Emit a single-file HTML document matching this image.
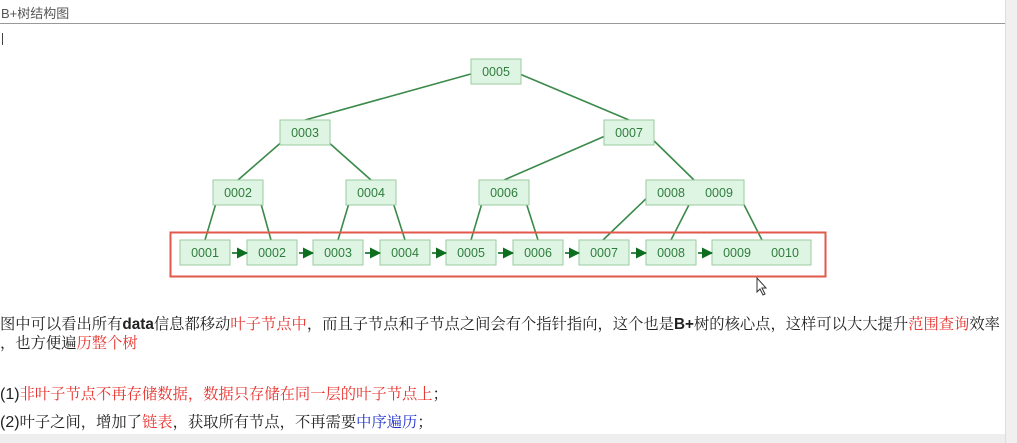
<!DOCTYPE html>
<html><head><meta charset="utf-8"><style>
body{margin:0;width:1017px;height:443px;background:#fff;overflow:hidden;position:relative;font-family:"Liberation Sans","Noto Serif CJK SC",serif;}
.t{position:absolute;left:0;white-space:nowrap;font-size:15.3px;color:#222;}
.r{color:#e8322d}.b{color:#2233cc}.s{font-family:"Liberation Sans","Noto Sans CJK SC",sans-serif;font-weight:bold;}
</style></head><body>
<div style="position:absolute;left:1px;top:3px;font-size:13px;color:#555;font-family:'Liberation Sans','Noto Sans CJK SC',sans-serif">B+树结构图</div>
<div style="position:absolute;left:0;top:23px;width:1005px;height:1px;background:#999"></div>
<div style="position:absolute;left:2px;top:33px;width:1px;height:12px;background:#444"></div>
<div style="position:absolute;left:1005px;top:0;width:12px;height:443px;background:#f0f0f0;border-left:1px solid #ddd"></div>
<div style="position:absolute;left:0;top:434px;width:1005px;height:9px;background:#eee"></div>
<svg width="1017" height="443" style="position:absolute;left:0;top:0" font-family="Liberation Sans,sans-serif" font-size="12.5">
<defs><marker id="a" markerWidth="11" markerHeight="11" refX="10" refY="5.5" orient="auto" markerUnits="userSpaceOnUse"><path d="M0,0L11,5.5L0,11z" fill="#0d6e1f"/></marker></defs>
<g stroke="#3a8a4a" stroke-width="1.6" fill="none">
<line x1="478" y1="72" x2="305" y2="120"/><line x1="515" y1="72" x2="629" y2="120"/>
<line x1="292" y1="133" x2="238" y2="180"/><line x1="318" y1="133" x2="371" y2="180"/>
<line x1="612" y1="133" x2="504" y2="180"/><line x1="646" y1="133" x2="694" y2="180"/>
<line x1="219" y1="193" x2="205" y2="240"/><line x1="258" y1="193" x2="271" y2="240"/>
<line x1="352" y1="193" x2="338" y2="240"/><line x1="390" y1="193" x2="405" y2="240"/>
<line x1="485" y1="193" x2="471" y2="240"/><line x1="523" y1="193" x2="538" y2="240"/>
<line x1="652" y1="193" x2="603" y2="240"/><line x1="695" y1="193" x2="671" y2="240"/>
<line x1="738" y1="193" x2="762" y2="240"/>
</g>
<g fill="#dff5e3" stroke="#9acb9f" stroke-width="1">
<rect x="471" y="59" width="50" height="25"/>
<rect x="280" y="120" width="50" height="25"/><rect x="604" y="120" width="50" height="25"/>
<rect x="213" y="180" width="50" height="25"/><rect x="346" y="180" width="50" height="25"/>
<rect x="479" y="180" width="50" height="25"/><rect x="646" y="180" width="98" height="25"/>
<rect x="180" y="240" width="50" height="25"/><rect x="247" y="240" width="50" height="25"/>
<rect x="313" y="240" width="50" height="25"/><rect x="380" y="240" width="50" height="25"/>
<rect x="446" y="240" width="50" height="25"/><rect x="513" y="240" width="50" height="25"/>
<rect x="579" y="240" width="50" height="25"/><rect x="646" y="240" width="50" height="25"/>
<rect x="712" y="240" width="99" height="25"/>
</g>
<rect x="170.5" y="232.5" width="655" height="44" fill="none" stroke="#e0594a" stroke-width="2"/>
<g stroke="#0d6e1f" stroke-width="1.6" marker-end="url(#a)">
<line x1="232" y1="253" x2="247" y2="253"/><line x1="299" y1="253" x2="313" y2="253"/>
<line x1="365" y1="253" x2="380" y2="253"/><line x1="432" y1="253" x2="446" y2="253"/>
<line x1="498" y1="253" x2="513" y2="253"/><line x1="565" y1="253" x2="579" y2="253"/>
<line x1="631" y1="253" x2="646" y2="253"/><line x1="698" y1="253" x2="712" y2="253"/>
</g>
<g fill="#2f7d3d" text-anchor="middle">
<text x="496" y="76">0005</text><text x="305" y="137">0003</text><text x="629" y="137">0007</text>
<text x="238" y="197">0002</text><text x="371" y="197">0004</text><text x="504" y="197">0006</text>
<text x="671" y="197">0008</text><text x="719" y="197">0009</text>
<text x="205" y="257">0001</text><text x="272" y="257">0002</text><text x="338" y="257">0003</text>
<text x="405" y="257">0004</text><text x="471" y="257">0005</text><text x="538" y="257">0006</text>
<text x="604" y="257">0007</text><text x="671" y="257">0008</text><text x="737" y="257">0009</text><text x="785" y="257">0010</text>
</g>
<path d="M757,278 L757,292 L760,289 L763,295 L765,294 L762,288 L766,288 Z" fill="#fff" stroke="#333" stroke-width="1"/>
</svg>
<div class="t" style="top:312px">图中可以看出所有<span class="s">data</span>信息都移动<span class="r">叶子节点中</span>，而且子节点和子节点之间会有个指针指向，这个也是<span class="s">B+</span>树的核心点，这样可以大大提升<span class="r">范围查询</span>效率</div>
<div class="t" style="top:331px">，也方便遍<span class="r">历整个树</span></div>
<div class="t" style="top:382px"><span class="s" style="font-size:16px;font-weight:normal">(1)</span><span class="r">非叶子节点不再存储数据，数据只存储在同一层的叶子节点上</span>；</div>
<div class="t" style="top:410px"><span class="s" style="font-size:16px;font-weight:normal">(2)</span>叶子之间，增加了<span class="r">链表</span>，获取所有节点，不再需要<span class="b">中序遍历</span>；</div>
</body></html>
